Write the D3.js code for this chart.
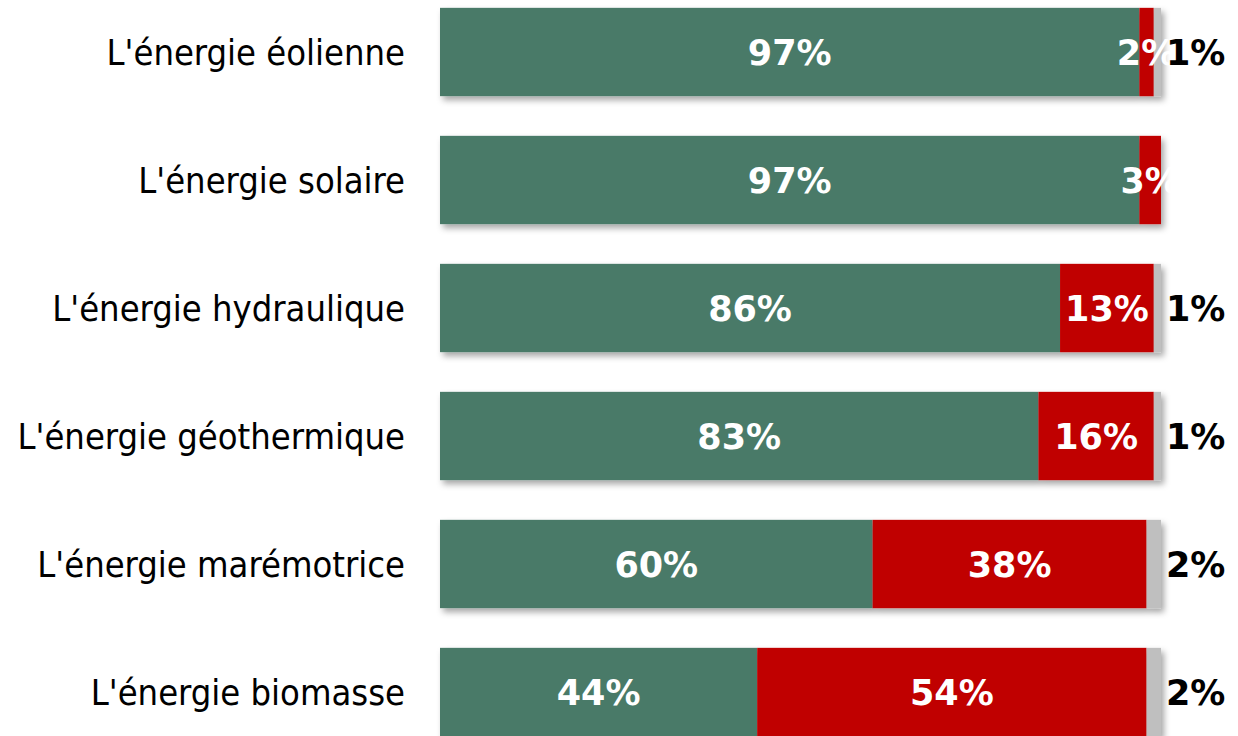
<!DOCTYPE html>
<html>
<head>
<meta charset="utf-8">
<script src="https://cdn.jsdelivr.net/npm/d3@7"></script>
<style>
  body { margin: 0; background: #fff; }
  svg { display: block; }
</style>
</head>
<body>
<svg id="chart" width="1238" height="736"></svg>
<script>
// Data
var categories = ["L'énergie éolienne", "L'énergie solaire", "L'énergie hydraulique",
                  "L'énergie géothermique", "L'énergie marémotrice", "L'énergie biomasse"];
var favorable = [97, 97, 86, 83, 60, 44];
var defavorable = [2, 3, 13, 16, 38, 54];
var nsp = [1, 0, 1, 1, 2, 2];

var seriesKeys = ['fav', 'def', 'nsp'];
var colors = {fav: '#4a7a68', def: '#c00000', nsp: '#bfbfbf'};

var rows = categories.map(function(c, i) {
    return {cat: c, fav: favorable[i], def: defavorable[i], nsp: nsp[i]};
});

var svg = d3.select('#chart');

var defs = svg.append('defs');
defs.append('filter')
    .attr('id', 'shadow')
    .attr('x', '-5%').attr('y', '-20%')
    .attr('width', '115%').attr('height', '150%')
  .append('feDropShadow')
    .attr('dx', 3).attr('dy', 4)
    .attr('stdDeviation', 3)
    .attr('flood-color', '#000')
    .attr('flood-opacity', 0.35);

var xScale = d3.scaleLinear()
    .domain([0, 100])
    .range([440, 1161]);

var yScale = d3.scaleBand()
    .domain(categories)
    .range([-12, 756])
    .paddingInner(0.31)
    .paddingOuter(0.155);

var stacked = d3.stack().keys(seriesKeys)(rows);

// Category labels
svg.append('g')
    .selectAll('text')
    .data(categories)
    .enter()
    .append('text')
    .attr('x', 405)
    .attr('y', function(d) { return yScale(d) + yScale.bandwidth() / 2; })
    .attr('text-anchor', 'end')
    .attr('dominant-baseline', 'central')
    .style('font-family', "'DejaVu Sans Condensed', 'DejaVu Sans', sans-serif")
    .style('font-size', '36px')
    .style('fill', '#000')
    .text(function(d) { return d; });

// Bars, one shadowed group per row
var rowG = svg.append('g')
    .selectAll('g.row')
    .data(rows)
    .enter()
    .append('g')
    .attr('class', 'row')
    .attr('filter', 'url(#shadow)');

rowG.each(function(r, i) {
    var g = d3.select(this);
    stacked.forEach(function(layer) {
        var seg = layer[i];
        if (seg[1] - seg[0] <= 0) return;
        g.append('rect')
            .attr('x', xScale(seg[0]))
            .attr('y', yScale(r.cat))
            .attr('width', xScale(seg[1]) - xScale(seg[0]))
            .attr('height', yScale.bandwidth())
            .attr('fill', colors[layer.key]);
    });
});

// Value labels
var labelG = svg.append('g')
    .style('font-family', "'DejaVu Sans', Verdana, sans-serif")
    .style('font-weight', 'bold')
    .style('font-size', '35px');

stacked.forEach(function(layer) {
    layer.forEach(function(seg, i) {
        var v = seg[1] - seg[0];
        if (v <= 0) return;
        var cy = yScale(categories[i]) + yScale.bandwidth() / 2 + 1;
        if (layer.key === 'nsp') {
            labelG.append('text')
                .attr('x', xScale(100) + 5)
                .attr('y', cy)
                .attr('text-anchor', 'start')
                .attr('dominant-baseline', 'central')
                .style('fill', '#000')
                .text(v + '%');
        } else {
            labelG.append('text')
                .attr('x', (xScale(seg[0]) + xScale(seg[1])) / 2)
                .attr('y', cy)
                .attr('text-anchor', 'middle')
                .attr('dominant-baseline', 'central')
                .style('fill', '#fff')
                .text(v + '%');
        }
    });
});
</script>
</body>
</html>
